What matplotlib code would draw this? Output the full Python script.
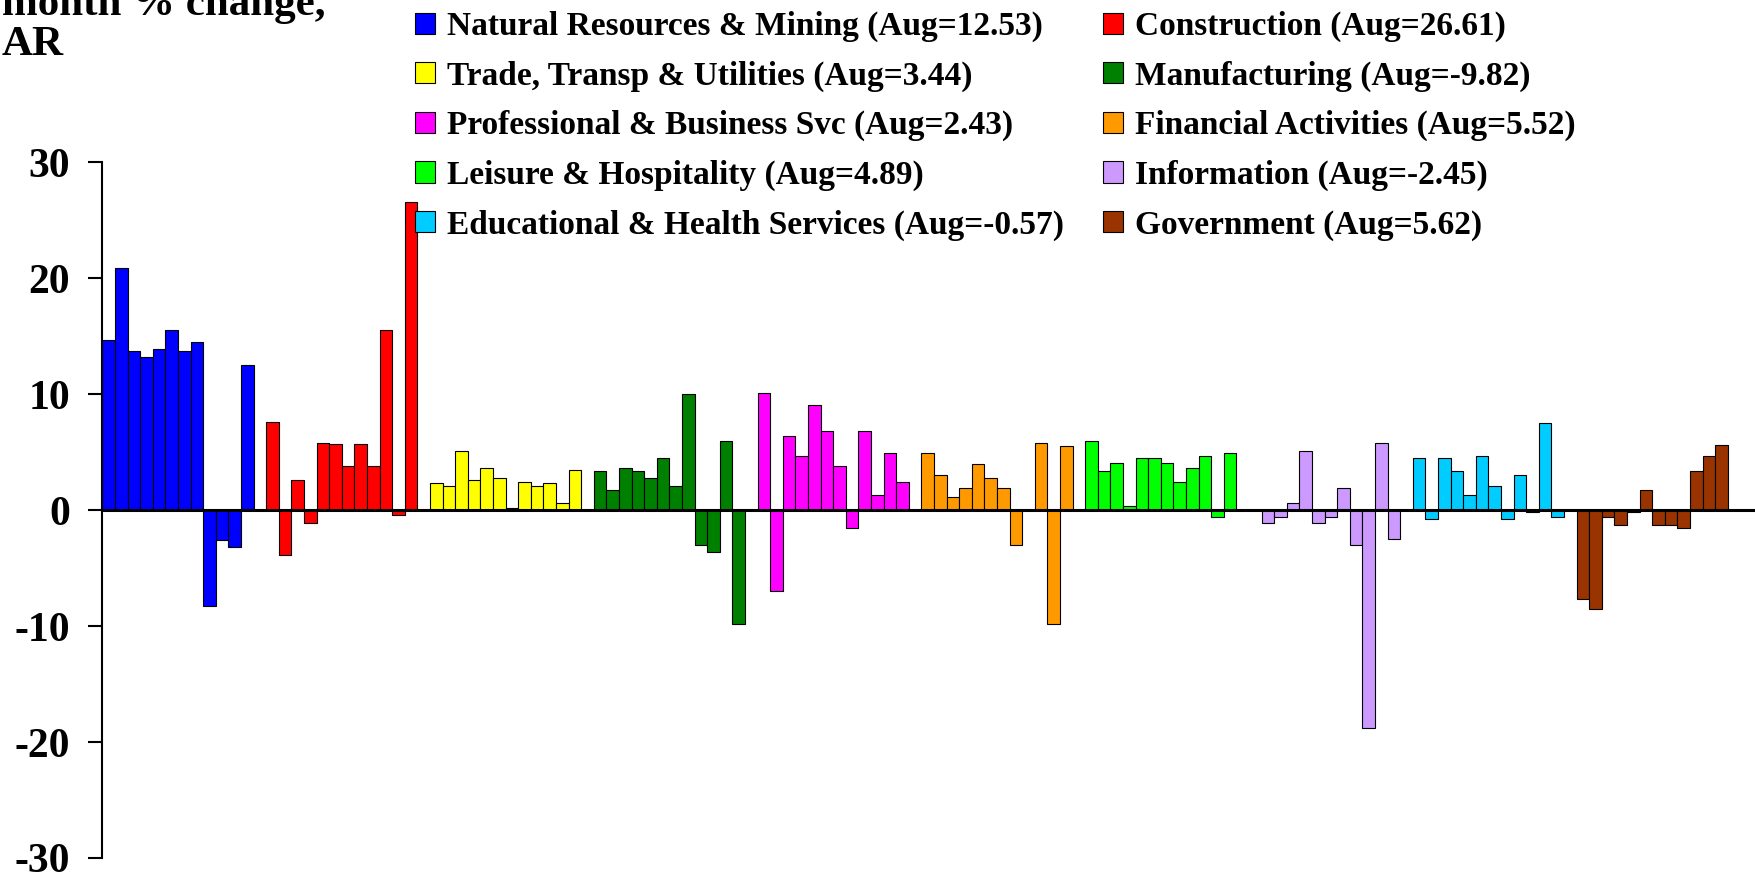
import numpy as np
import matplotlib.pyplot as plt
from matplotlib.patches import Patch

plt.rcParams['axes.unicode_minus'] = False

# monthly % change, annualized, 12 months per sector (last = Aug)
nat_res = [14.7, 20.9, 13.7, 13.2, 13.9, 15.5, 13.7, 14.5, -8.3, -2.6, -3.2, 12.53]
construction = [7.6, -3.9, 2.6, -1.1, 5.8, 5.7, 3.8, 5.7, 3.8, 15.5, -0.4, 26.61]
trade = [2.3, 2.1, 5.1, 2.6, 3.6, 2.8, 0.2, 2.4, 2.1, 2.3, 0.6, 3.44]
manufacturing = [3.4, 1.7, 3.6, 3.4, 2.8, 4.5, 2.1, 10.0, -3.0, -3.6, 6.0, -9.82]
prof_bus = [10.1, -7.0, 6.4, 4.7, 9.05, 6.8, 3.8, -1.5, 6.8, 1.3, 4.9, 2.43]
financial = [4.9, 3.0, 1.1, 1.9, 4.0, 2.8, 1.9, -3.0, 0.0, 5.8, -9.8, 5.52]
leisure = [6.0, 3.4, 4.1, 0.4, 4.5, 4.5, 4.1, 2.4, 3.6, 4.7, -0.55, 4.89]
information = [0.0, -1.1, -0.55, 0.6, 5.1, -1.1, -0.55, 1.9, -3.0, -18.8, 5.8, -2.45]
edu_health = [4.5, -0.75, 4.5, 3.4, 1.35, 4.7, 2.1, -0.75, 3.0, -0.17, 7.55, -0.57]
government = [-7.7, -8.5, -0.55, -1.3, -0.17, 1.7, -1.3, -1.3, -1.5, 3.4, 4.7, 5.62]

sectors = ["Natural Resources & Mining", "Construction", "Trade, Transp & Utilities",
           "Manufacturing", "Professional & Business Svc", "Financial Activities",
           "Leisure & Hospitality", "Information", "Educational & Health Services",
           "Government"]
series = [nat_res, construction, trade, manufacturing, prof_bus, financial,
          leisure, information, edu_health, government]
colors = ["#0000FF", "#FF0000", "#FFFF00", "#008000", "#FF00FF", "#FF9900",
          "#00FF00", "#CC99FF", "#00CCFF", "#993300"]

serif = ["Liberation Serif", "DejaVu Serif"]

fig = plt.figure(figsize=(17.56, 8.72), dpi=100)
ax = fig.add_axes([0.05826, 0.01606, 0.9400, 0.7978])

handles = []
for i, (vals, col) in enumerate(zip(series, colors)):
    x = i * 13 + np.arange(len(vals))
    ax.bar(x, vals, width=1.0, align='edge', color=col, edgecolor='black', linewidth=0.8)
    handles.append(Patch(facecolor=col, edgecolor='black', linewidth=0.8))

ax.set_xlim(0, 131)
ax.set_ylim(-30, 30)
ax.set_yticks([-30, -20, -10, 0, 10, 20, 30])
ax.set_xticks([])
for s in ['top', 'right']:
    ax.spines[s].set_visible(False)
ax.spines['bottom'].set_position(('data', 0))
ax.spines['bottom'].set_linewidth(2.2)
ax.spines['left'].set_linewidth(1.5)
ax.tick_params(axis='y', direction='out', length=10, width=1.5, pad=13)
for lab in ax.get_yticklabels():
    lab.set_fontfamily(serif)
    lab.set_fontweight('bold')
    lab.set_fontsize(30)

# title is partly cut off at the top-left of the original
fig.text(2 / 1756, 1 - 55 / 872, "month % change,\nAR", ha='left', va='baseline',
         fontsize=31, fontweight='bold', family=serif, linespacing=1.08)

labels = [f"{n} (Aug={v[-1]:.2f})" for n, v in zip(sectors, series)]
fs = 24
leg_kw = dict(loc='upper left', frameon=False, borderpad=0, borderaxespad=0,
              handlelength=0.6, handleheight=0.6, handletextpad=0.35,
              labelspacing=0.55, prop={'family': serif, 'weight': 'bold', 'size': fs})
col1 = [0, 2, 4, 6, 8]
col2 = [1, 3, 5, 7, 9]
fig.legend([handles[i] for i in col1], [labels[i] for i in col1],
           bbox_to_anchor=(415 / 1756, 1 - 11 / 872), **leg_kw)
fig.legend([handles[i] for i in col2], [labels[i] for i in col2],
           bbox_to_anchor=(1103 / 1756, 1 - 11 / 872), **leg_kw)

fig.savefig("out.png", dpi=100)
